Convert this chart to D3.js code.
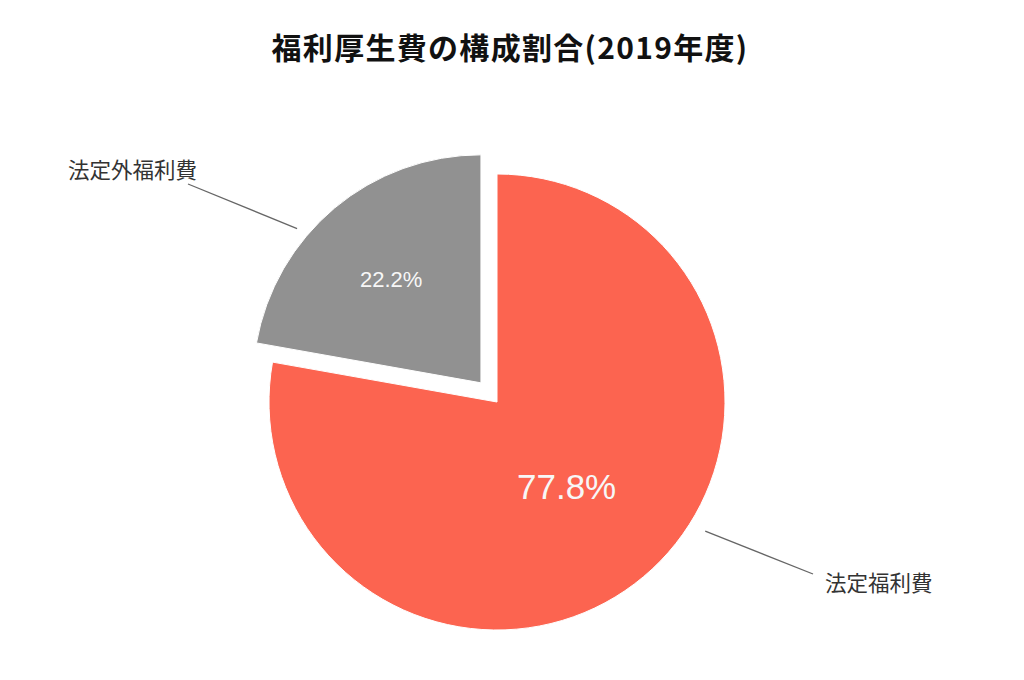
<!DOCTYPE html>
<html>
<head>
<meta charset="utf-8">
<script src="https://cdn.jsdelivr.net/npm/d3@7"></script>
<style>
  body { margin: 0; background: #fff; }
  svg { display: block; }
</style>
</head>
<body>
<div id="app"></div>
<script>
// data
const categories = ['法定福利費', '法定外福利費'];
const shares = [77.8, 22.2];
const colors = ['#fc6450', '#919191'];
const titleText = '福利厚生費の構成割合(2019年度)';

const W = 1024, H = 680;
const cx = 497, cy = 402, R = 228;
const explode = [0, 25];
// leader line layout: start angle/radius from slice centre, then label anchor
const leaders = [
  { a: 121.8, r: 245, x2: 813, y2: 574, tx: 825, ty: 591, anchor: 'start' },
  { a: 310, r: 240, x2: 188, y2: 184, tx: 68, ty: 178, anchor: 'start' }
];
const pctStyle = [
  { size: 35, r: 0.48, ang: 140.5 },
  { size: 22, r: 0.6, ang: 319 }
];

const svg = d3.select('#app').append('svg')
  .attr('width', W).attr('height', H);

svg.append('text')
  .attr('x', 510).attr('y', 59)
  .attr('text-anchor', 'middle')
  .style('font-family', '"Noto Sans CJK JP", sans-serif')
  .style('font-weight', 700)
  .style('font-size', '30px')
  .style('letter-spacing', '1.3px')
  .style('fill', '#111')
  .text(titleText);

const data = categories.map((c, i) => ({ name: c, value: shares[i], i }));
const pie = d3.pie().value(d => d.value).sort(null);
const arcs = pie(data);
const arc = d3.arc().innerRadius(0).outerRadius(R);

function offset(d) {
  const m = (d.startAngle + d.endAngle) / 2;
  const e = explode[d.data.i];
  return [cx + e * Math.sin(m), cy - e * Math.cos(m)];
}

const g = svg.append('g');
const slices = g.selectAll('g.slice').data(arcs).enter().append('g')
  .attr('class', 'slice')
  .attr('transform', d => 'translate(' + offset(d) + ')');

slices.append('path')
  .attr('d', arc)
  .attr('fill', d => colors[d.data.i])
  .attr('stroke', '#fff')
  .attr('stroke-width', 1);

slices.append('text')
  .attr('transform', d => {
    const p = pctStyle[d.data.i];
    const a = p.ang * Math.PI / 180;
    return 'translate(' + [R * p.r * Math.sin(a), -R * p.r * Math.cos(a)] + ')';
  })
  .attr('text-anchor', 'middle')
  .attr('dy', '0.35em')
  .style('font-family', '"Liberation Sans", Arial, sans-serif')
  .style('font-size', d => pctStyle[d.data.i].size + 'px')
  .style('fill', '#f7f7f7')
  .text(d => d3.format('.1f')(d.data.value) + '%');

// leader lines + labels
arcs.forEach(d => {
  const L = leaders[d.data.i];
  const o = offset(d);
  const a = L.a * Math.PI / 180;
  const x1 = o[0] + L.r * Math.sin(a), y1 = o[1] - L.r * Math.cos(a);
  svg.append('line')
    .attr('x1', x1).attr('y1', y1)
    .attr('x2', L.x2).attr('y2', L.y2)
    .attr('stroke', '#666').attr('stroke-width', 1.3);
  svg.append('text')
    .attr('x', L.tx).attr('y', L.ty)
    .attr('text-anchor', L.anchor)
    .style('font-family', '"Noto Sans CJK JP", sans-serif')
    .style('font-size', '21.5px')
    .style('fill', '#333')
    .text(d.data.name);
});
</script>
</body>
</html>
